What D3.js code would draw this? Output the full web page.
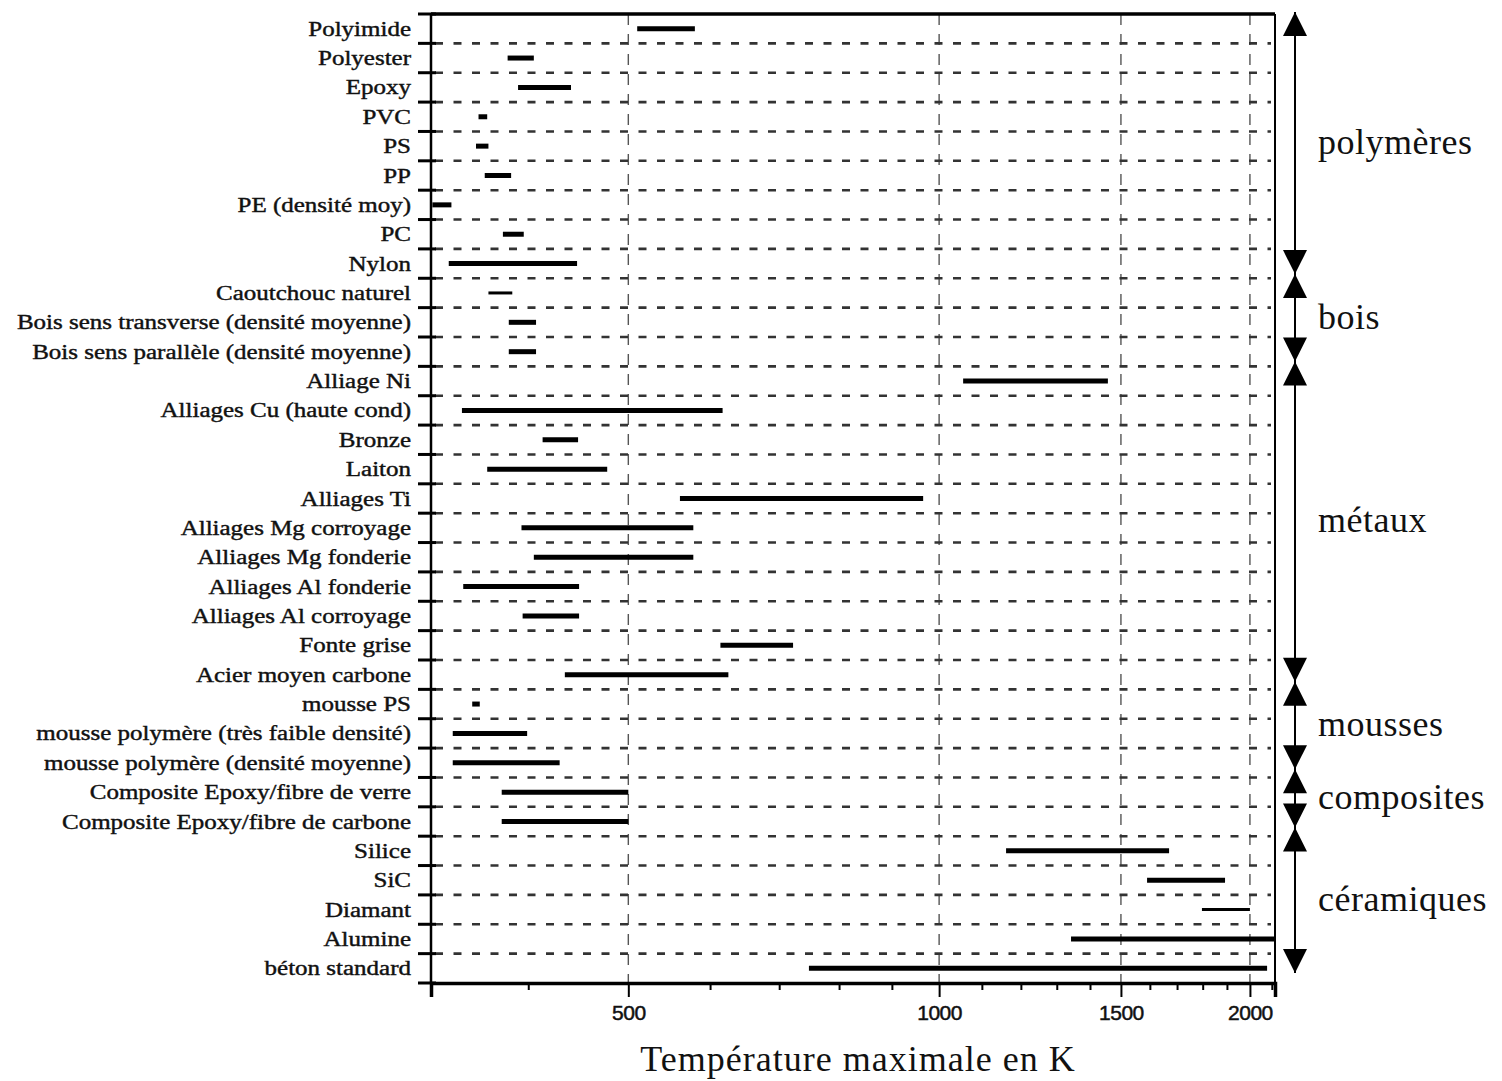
<!DOCTYPE html>
<html>
<head>
<meta charset="utf-8">
<script src="https://cdn.jsdelivr.net/npm/d3@7"></script>
<style>
  body { margin: 0; background: #fff; }
  svg { display: block; }
</style>
</head>
<body>
<div id="chart"></div>
<script>
// materials, top to bottom
var materials = ["Polyimide", "Polyester", "Epoxy", "PVC", "PS", "PP", "PE (densité moy)", "PC", "Nylon",
    "Caoutchouc naturel", "Bois sens transverse (densité moyenne)", "Bois sens parallèle (densité moyenne)",
    "Alliage Ni", "Alliages Cu (haute cond)", "Bronze", "Laiton", "Alliages Ti", "Alliages Mg corroyage",
    "Alliages Mg fonderie", "Alliages Al fonderie", "Alliages Al corroyage", "Fonte grise", "Acier moyen carbone",
    "mousse PS", "mousse polymère (très faible densité)", "mousse polymère (densité moyenne)",
    "Composite Epoxy/fibre de verre", "Composite Epoxy/fibre de carbone",
    "Silice", "SiC", "Diamant", "Alumine", "béton standard"];

// max service temperature range in K
var tLow  = [510, 382, 391, 358, 356, 363, 323, 378, 335,
    366, 383, 383,
    1055, 345, 413, 365, 561, 394, 405, 346, 395, 614, 434,
    353, 338, 338,
    377, 377,
    1161, 1590, 1797, 1342, 748];
var tHigh = [580, 405, 440, 365, 366, 385, 337, 396, 446,
    386, 407, 407,
    1457, 617, 447, 477, 965, 578, 578, 448, 448, 722, 625,
    359, 399, 429,
    500, 500,
    1670, 1892, 2000, 2115, 2078];

// material families (first and last member)
var familyNames = ["polymères", "bois", "métaux", "mousses", "composites", "céramiques"];
var familyFirst = ["Polyimide", "Caoutchouc naturel", "Alliage Ni", "mousse PS", "Composite Epoxy/fibre de verre", "Silice"];
var familyLast  = ["Nylon", "Bois sens parallèle (densité moyenne)", "Acier moyen carbone",
    "mousse polymère (densité moyenne)", "Composite Epoxy/fibre de carbone", "béton standard"];

var majorTicks = [500, 1000, 1500, 2000];
var minorTicks = [400, 600, 700, 800, 900, 1100, 1200, 1300, 1400, 1600, 1700, 1800, 1900, 2100];
var xDomain = [322, 2115];
var xTitle = "Température maximale en K";

var width = 1502, height = 1081;
var plot = {left: 431, right: 1275, top: 14, bottom: 983};

var svg = d3.select("#chart").append("svg")
    .attr("width", width)
    .attr("height", height);

var x = d3.scaleLog()
    .domain(xDomain)
    .range([plot.left, plot.right]);
var y = d3.scaleBand()
    .domain(materials)
    .range([plot.top, plot.bottom]);
// the family brackets sit a touch higher in the original drawing
var yFam = d3.scaleBand()
    .domain(materials)
    .range([12, 973]);

var data = materials.map(function(m, i) {
    return {name: m, lo: tLow[i], hi: tHigh[i]};
});

// vertical grid at labelled values
svg.append("g")
    .selectAll("line")
    .data(majorTicks)
    .enter().append("line")
    .attr("x1", function(d) { return x(d); })
    .attr("x2", function(d) { return x(d); })
    .attr("y1", plot.top)
    .attr("y2", plot.bottom)
    .attr("stroke", "#555")
    .attr("stroke-width", 1.4)
    .attr("stroke-dasharray", "11,9");

// horizontal dashed separators between rows
var bounds = materials.slice(1).map(function(m) { return y(m); });
svg.append("g")
    .selectAll("line")
    .data(bounds)
    .enter().append("line")
    .attr("x1", plot.left + 4)
    .attr("x2", plot.right - 4)
    .attr("y1", function(d) { return d; })
    .attr("y2", function(d) { return d; })
    .attr("stroke", "#333")
    .attr("stroke-width", 2.6)
    .attr("stroke-dasharray", "8,10.5");

// temperature bars
var thin = ["Caoutchouc naturel", "Diamant"];
svg.append("g")
    .selectAll("line")
    .data(data)
    .enter().append("line")
    .attr("x1", function(d) { return x(d.lo); })
    .attr("x2", function(d) { return x(d.hi); })
    .attr("y1", function(d) { return y(d.name) + y.bandwidth() / 2; })
    .attr("y2", function(d) { return y(d.name) + y.bandwidth() / 2; })
    .attr("stroke", "#000")
    .attr("stroke-width", function(d) { return thin.indexOf(d.name) >= 0 ? 3 : 5; });

// frame
svg.append("line")
    .attr("x1", plot.left).attr("x2", plot.right)
    .attr("y1", plot.top).attr("y2", plot.top)
    .attr("stroke", "#000").attr("stroke-width", 3.5);
svg.append("line")
    .attr("x1", plot.right).attr("x2", plot.right)
    .attr("y1", plot.top).attr("y2", plot.bottom)
    .attr("stroke", "#000").attr("stroke-width", 2);

// x axis: minor ticks, then labelled major ticks
var xMinor = d3.axisBottom(x).tickValues(minorTicks).tickSize(7).tickFormat("");
var xMajor = d3.axisBottom(x).tickValues(majorTicks).tickSize(14).tickPadding(8)
    .tickFormat(d3.format("d"));

var gxMinor = svg.append("g")
    .attr("transform", "translate(0," + plot.bottom + ")")
    .call(xMinor);
var gx = svg.append("g")
    .attr("transform", "translate(0," + plot.bottom + ")")
    .call(xMajor);
gxMinor.select(".domain").remove();
gx.select(".domain").attr("stroke-width", 3.5);
gx.selectAll(".tick line").attr("stroke-width", 2);
gxMinor.selectAll(".tick line").attr("stroke-width", 2);
gx.selectAll("text")
    .attr("font-family", "Liberation Sans, Arial, sans-serif")
    .attr("font-size", 21)
    .attr("letter-spacing", -0.5)
    .attr("fill", "#111")
    .attr("stroke", "#111")
    .attr("stroke-width", 0.5);

// y axis with ticks at the row boundaries, labels between them
var yAxis = svg.append("g");
yAxis.append("line")
    .attr("x1", plot.left).attr("x2", plot.left)
    .attr("y1", plot.top).attr("y2", plot.bottom)
    .attr("stroke", "#000").attr("stroke-width", 2.5);
yAxis.selectAll(".ytick")
    .data([plot.top].concat(bounds, [plot.bottom]))
    .enter().append("line")
    .attr("class", "ytick")
    .attr("x1", plot.left - 13)
    .attr("x2", plot.left + 5)
    .attr("y1", function(d) { return d; })
    .attr("y2", function(d) { return d; })
    .attr("stroke", "#000")
    .attr("stroke-width", 3);
// scanned labels are set wide; stretch them horizontally
yAxis.selectAll(".ylabel")
    .data(materials)
    .enter().append("text")
    .attr("class", "ylabel")
    .attr("transform", function(d) {
        return "translate(" + (plot.left - 20) + "," + (y(d) + y.bandwidth() / 2) + ") scale(1.25,1)";
    })
    .attr("dy", "0.35em")
    .attr("text-anchor", "end")
    .attr("font-family", "Liberation Serif, Times New Roman, serif")
    .attr("font-size", 20)
    .attr("fill", "#111")
    .attr("stroke", "#111")
    .attr("stroke-width", 0.4)
    .text(function(d) { return d; });

// x axis title
svg.append("text")
    .attr("x", (plot.left + plot.right) / 2 + 5)
    .attr("y", 1071)
    .attr("text-anchor", "middle")
    .attr("font-family", "Liberation Serif, Times New Roman, serif")
    .attr("font-size", 36)
    .attr("letter-spacing", 1)
    .attr("fill", "#111")
    .text(xTitle);

// family brackets on the right
var ax = 1295, headW = 12, headH = 24;
var fam = familyNames.map(function(n, i) {
    return {name: n, top: yFam(familyFirst[i]), bottom: yFam(familyLast[i]) + yFam.bandwidth()};
});
svg.append("line")
    .attr("x1", ax).attr("x2", ax)
    .attr("y1", fam[0].top)
    .attr("y2", fam[fam.length - 1].bottom)
    .attr("stroke", "#000")
    .attr("stroke-width", 2);

var heads = svg.append("g");
fam.forEach(function(f) {
    heads.append("path")
        .attr("d", "M" + ax + "," + f.top + "L" + (ax + headW) + "," + (f.top + headH) +
            "L" + (ax - headW) + "," + (f.top + headH) + "Z")
        .attr("fill", "#000");
    heads.append("path")
        .attr("d", "M" + ax + "," + f.bottom + "L" + (ax + headW) + "," + (f.bottom - headH) +
            "L" + (ax - headW) + "," + (f.bottom - headH) + "Z")
        .attr("fill", "#000");
});

svg.append("g")
    .selectAll("text")
    .data(fam)
    .enter().append("text")
    .attr("x", 1318)
    .attr("y", function(d) { return (d.top + d.bottom) / 2; })
    .attr("dy", "0.3em")
    .attr("font-family", "Liberation Serif, Times New Roman, serif")
    .attr("font-size", 36)
    .attr("letter-spacing", 0.5)
    .attr("fill", "#111")
    .text(function(d) { return d.name; });
</script>
</body>
</html>
